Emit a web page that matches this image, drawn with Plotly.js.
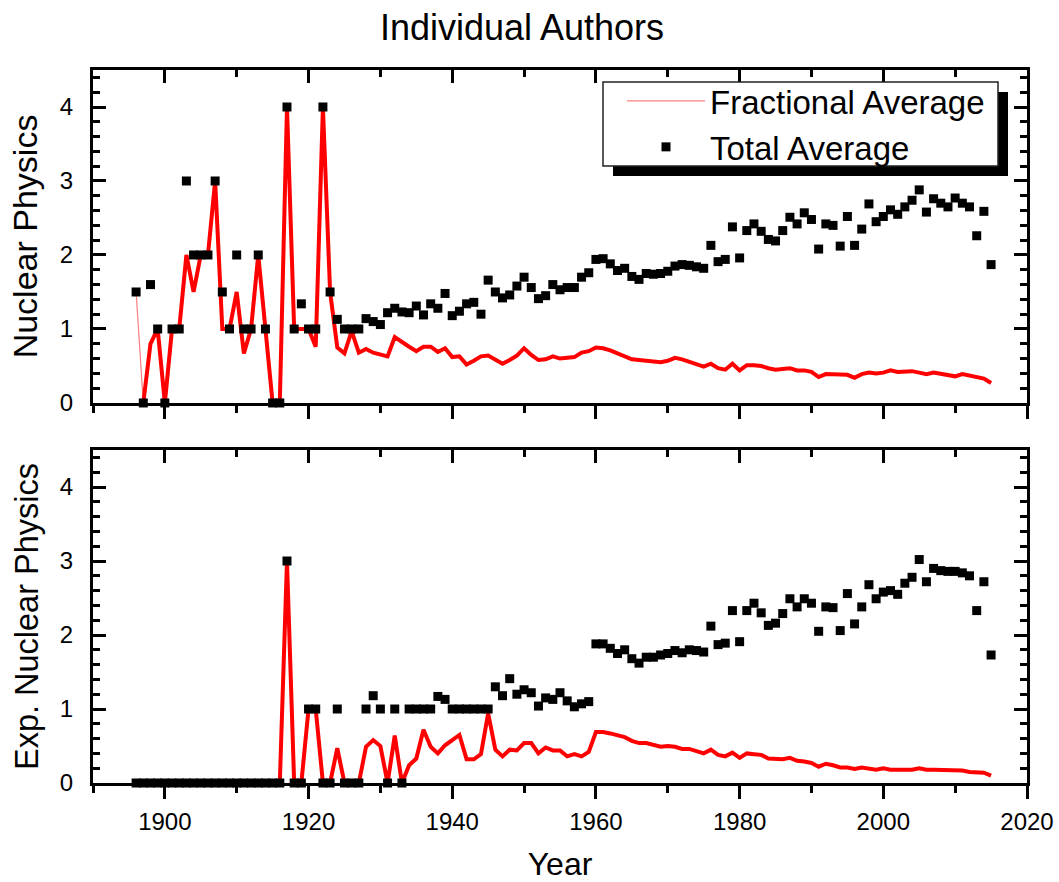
<!DOCTYPE html>
<html>
<head>
<meta charset="utf-8">
<script src="https://cdn.plot.ly/plotly-3.0.1.min.js"></script>
<style>html,body{margin:0;padding:0;background:#fff;}#chart{width:1059px;height:882px;}</style>
</head>
<body>
<div id="chart"></div>
<script>
// ---- data ----
const years = [1896,1897,1898,1899,1900,1901,1902,1903,1904,1905,1906,1907,1908,1909,1910,1911,1912,1913,1914,1915,
1916,1917,1918,1919,1920,1921,1922,1923,1924,1925,1926,1927,1928,1929,1930,1931,1932,1933,1934,1935,
1936,1937,1938,1939,1940,1941,1942,1943,1944,1945,1946,1947,1948,1949,1950,1951,1952,1953,1954,1955,
1956,1957,1958,1959,1960,1961,1962,1963,1964,1965,1966,1967,1968,1969,1970,1971,1972,1973,1974,1975,
1976,1977,1978,1979,1980,1981,1982,1983,1984,1985,1986,1987,1988,1989,1990,1991,1992,1993,1994,1995,
1996,1997,1998,1999,2000,2001,2002,2003,2004,2005,2006,2007,2008,2009,2010,2011,2012,2013,2014,2015];

// Nuclear Physics – fractional average
const fracNuclear = [1.5,0,0.8,1.0,0,1.0,1.0,2.0,1.5,2.0,2.0,3.0,1.0,1.0,1.5,0.67,1.0,2.0,1.0,0,
0,4.0,1.0,1.0,1.0,0.76,4.0,1.5,0.75,0.67,0.97,0.68,0.73,0.68,0.66,0.63,0.89,0.82,0.76,0.70,
0.76,0.76,0.69,0.74,0.62,0.63,0.52,0.57,0.63,0.64,0.59,0.53,0.58,0.64,0.74,0.65,0.58,0.59,0.63,0.60,
0.61,0.62,0.68,0.70,0.75,0.74,0.71,0.67,0.63,0.59,0.58,0.57,0.55,0.55,0.57,0.61,0.59,0.56,0.52,0.49,
0.53,0.47,0.45,0.53,0.44,0.51,0.51,0.50,0.47,0.45,0.46,0.47,0.44,0.44,0.42,0.35,0.39,0.39,0.39,0.38,
0.34,0.39,0.41,0.40,0.41,0.44,0.42,0.42,0.43,0.41,0.39,0.41,0.39,0.38,0.36,0.39,0.37,0.35,0.33,0.27];

// Nuclear Physics – total average
const totalNuclear = [1.5,0,1.6,1.0,0,1.0,1.0,3.0,2.0,2.0,2.0,3.0,1.5,1.0,2.0,1.0,1.0,2.0,1.0,0,
0,4.0,1.0,1.34,1.0,1.0,4.0,1.5,1.13,1.0,1.0,1.0,1.14,1.10,1.06,1.22,1.28,1.23,1.22,1.31,
1.19,1.34,1.28,1.48,1.18,1.24,1.34,1.36,1.20,1.66,1.50,1.42,1.46,1.58,1.70,1.56,1.41,1.45,1.60,1.53,
1.56,1.56,1.70,1.76,1.94,1.95,1.88,1.79,1.82,1.71,1.67,1.75,1.74,1.75,1.78,1.85,1.87,1.86,1.84,1.82,
2.13,1.91,1.94,2.38,1.96,2.33,2.42,2.32,2.21,2.19,2.33,2.51,2.42,2.57,2.48,2.08,2.42,2.40,2.12,2.52,
2.13,2.35,2.69,2.45,2.52,2.61,2.55,2.65,2.74,2.88,2.58,2.76,2.70,2.65,2.77,2.70,2.65,2.26,2.59,1.87];

// Exp. Nuclear Physics – fractional average
const fracExp = [0,0,0,0,0,0,0,0,0,0,0,0,0,0,0,0,0,0,0,0,
0,3.0,0,0,1.0,1.0,0,0,0.47,0,0,0,0.49,0.58,0.50,0,0.64,0,0.24,0.33,
0.72,0.49,0.40,0.51,0.58,0.65,0.32,0.32,0.39,0.94,0.45,0.36,0.45,0.44,0.54,0.54,0.40,0.48,0.44,0.44,
0.36,0.39,0.36,0.42,0.69,0.69,0.67,0.65,0.62,0.57,0.54,0.54,0.52,0.49,0.50,0.49,0.46,0.46,0.43,0.40,
0.45,0.38,0.36,0.41,0.34,0.40,0.39,0.38,0.33,0.32,0.32,0.34,0.30,0.29,0.27,0.22,0.26,0.24,0.21,0.21,
0.19,0.21,0.20,0.18,0.20,0.18,0.18,0.18,0.18,0.20,0.18,0.18,0.18,0.17,0.17,0.17,0.15,0.14,0.14,0.10];

// Exp. Nuclear Physics – total average
const totalExp = [0,0,0,0,0,0,0,0,0,0,0,0,0,0,0,0,0,0,0,0,
0,3.0,0,0,1.0,1.0,0,0,1.0,0,0,0,1.0,1.18,1.0,0,1.0,0,1.0,1.0,
1.0,1.0,1.17,1.13,1.0,1.0,1.0,1.0,1.0,1.0,1.30,1.18,1.41,1.20,1.26,1.22,1.04,1.15,1.13,1.22,
1.11,1.03,1.07,1.10,1.88,1.88,1.82,1.75,1.80,1.68,1.62,1.70,1.70,1.73,1.75,1.79,1.76,1.80,1.79,1.77,
2.12,1.87,1.89,2.33,1.91,2.33,2.43,2.30,2.13,2.16,2.29,2.49,2.38,2.49,2.43,2.05,2.38,2.37,2.06,2.56,
2.15,2.38,2.68,2.49,2.58,2.60,2.55,2.70,2.78,3.02,2.72,2.90,2.87,2.86,2.86,2.84,2.80,2.33,2.72,1.73];

const seriesNames = ['Fractional Average', 'Total Average'];
const panelTitles = ['Nuclear Physics', 'Exp. Nuclear Physics'];
const chartTitle = 'Individual Authors';
const xTitle = 'Year';

// ---- styling ----
const FONT = 'Liberation Sans, Arimo, Arial, sans-serif';
const RED = '#ff0000';

const traces = [
  {x: years, y: fracNuclear, xaxis:'x', yaxis:'y', mode:'lines', name: seriesNames[0],
   line:{color:'rgba(255,40,40,0.6)', width:1.2}, cliponaxis:false, hoverinfo:'x+y'},
  {x: years.slice(1), y: fracNuclear.slice(1), xaxis:'x', yaxis:'y', mode:'lines', showlegend:false,
   line:{color:RED, width:4}, cliponaxis:false, hoverinfo:'x+y'},
  {x: years, y: totalNuclear, xaxis:'x', yaxis:'y', mode:'markers', name: seriesNames[1],
   marker:{symbol:'square', size:9, color:'#000'}, cliponaxis:false, hoverinfo:'x+y'},
  {x: years, y: fracExp, xaxis:'x2', yaxis:'y2', mode:'lines', showlegend:false,
   line:{color:RED, width:4}, cliponaxis:false, hoverinfo:'x+y'},
  {x: years, y: totalExp, xaxis:'x2', yaxis:'y2', mode:'markers', showlegend:false,
   marker:{symbol:'square', size:9, color:'#000'}, cliponaxis:false, hoverinfo:'x+y'},
  {x: [], y: [], xaxis:'x3', yaxis:'y', showlegend:false, hoverinfo:'skip'},
  {x: [], y: [], xaxis:'x4', yaxis:'y2', showlegend:false, hoverinfo:'skip'}
];

const tickFont = {family: FONT, size: 24, color: '#000'};

function xBottom(anchor, labels) {
  return {
    anchor: anchor, range:[1890, 2020], autorange:false, showgrid:false, zeroline:false,
    showline:true, linecolor:'#000', linewidth:3, mirror:true,
    ticks:'outside', tickmode:'linear', tick0:1900, dtick:20, ticklen:13, tickwidth:3, tickcolor:'#000',
    minor:{ticks:'outside', tickmode:'linear', tick0:1890, dtick:10, ticklen:7, tickwidth:3, tickcolor:'#000', showgrid:false},
    showticklabels: labels, tickfont: tickFont, ticklabelstandoff: 2
  };
}
function xTop(over, anchor) {
  return {
    overlaying: over, anchor: anchor, side:'top', range:[1890, 2020], autorange:false,
    showgrid:false, zeroline:false, showline:false,
    ticks:'inside', tickmode:'linear', tick0:1900, dtick:20, ticklen:13, tickwidth:3, tickcolor:'#000',
    minor:{ticks:'inside', tickmode:'linear', tick0:1890, dtick:10, ticklen:7, tickwidth:3, tickcolor:'#000', showgrid:false},
    showticklabels:false
  };
}
function yAxis(domain, anchor, title, tsize) {
  return {
    domain: domain, anchor: anchor, range:[0, 4.5], autorange:false, showgrid:false, zeroline:false,
    showline:true, linecolor:'#000', linewidth:3, mirror:'ticks',
    ticks:'inside', tickmode:'linear', tick0:0, dtick:1, ticklen:13, tickwidth:3, tickcolor:'#000',
    minor:{ticks:'inside', tickmode:'linear', tick0:0, dtick:0.2, ticklen:7, tickwidth:3, tickcolor:'#000', showgrid:false},
    tickfont: tickFont, ticklabelstandoff: 12,
    title:{text: title, font:{family: FONT, size: tsize, color:'#000'}, standoff: 12}
  };
}

// pixel helpers (plot area 93..1027 x, 70..783 y)
const px = v => (v - 93) / 934;
const py = v => (783 - v) / 713;

const xb2 = xBottom('y2', true);
xb2.title = {text: xTitle, font:{family: FONT, size: 32, color:'#000'}, standoff: 20};

const layout = {
  width:1059, height:882,
  margin:{l:93, r:32, t:70, b:99},
  paper_bgcolor:'#fff', plot_bgcolor:'#fff',
  font:{family: FONT, color:'#000'},
  title:{text: chartTitle, font:{family: FONT, size:36, color:'#000'},
         xref:'container', x:522/1059, xanchor:'center', yref:'container', y:1 - 27/882, yanchor:'middle'},
  showlegend:true,
  legend:{x: px(622), y: py(73), xanchor:'left', yanchor:'top', bgcolor:'rgba(0,0,0,0)', borderwidth:0,
          font:{family: FONT, size:33, color:'#000'}, itemwidth:78, tracegroupgap:0},
  xaxis: xBottom('y', false),
  xaxis2: xb2,
  xaxis3: xTop('x', 'y'),
  xaxis4: xTop('x2', 'y2'),
  yaxis: yAxis([0.533, 1], 'x', panelTitles[0], 34),
  yaxis2: yAxis([0, 0.467], 'x2', panelTitles[1], 32.5),
  shapes:[
    // legend drop shadow and frame
    {type:'rect', xref:'paper', yref:'paper', x0: px(613), x1: px(1008), y0: py(176), y1: py(92),
     fillcolor:'#000', line:{width:0}, layer:'above'},
    {type:'rect', xref:'paper', yref:'paper', x0: px(603), x1: px(998), y0: py(166), y1: py(82),
     fillcolor:'#fff', line:{color:'#222', width:1.5}, layer:'above'}
  ]
};

Plotly.newPlot('chart', traces, layout, {displayModeBar:false, staticPlot:true});
</script>
</body>
</html>
